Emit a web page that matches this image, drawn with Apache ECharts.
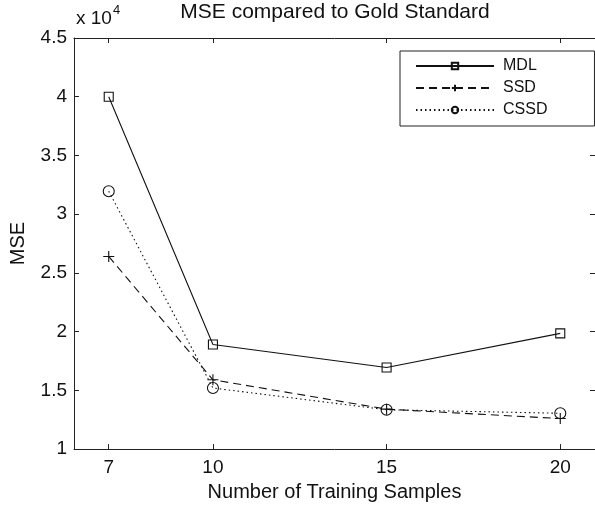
<!DOCTYPE html>
<html>
<head>
<meta charset="utf-8">
<script src="https://cdn.jsdelivr.net/npm/echarts@6/dist/echarts.min.js"></script>
<style>
html,body{margin:0;padding:0;background:#fff;}
#chart{width:595px;height:507px;}
</style>
</head>
<body>
<div id="chart"></div>
<script>
var samples = [7, 10, 15, 20];
var mdl  = [40000, 18900, 16950, 19850];
var ssd  = [26400, 15900, 13400, 12600];
var cssd = [31950, 15200, 13350, 13050];
var xTicks = [7, 10, 15, 20];
var seriesNames = ['MDL', 'SSD', 'CSSD'];

function pairs(ys) { return samples.map(function (x, i) { return [x, ys[i]]; }); }

var FONT = 'Liberation Sans, Arial, Helvetica, sans-serif';
var chart = echarts.init(document.getElementById('chart'), null, {renderer: 'canvas'});
var plusPath = 'path://M0,5L10,5M5,0L5,10';

var axisCommon = {
  axisLine: {show: true, lineStyle: {color: '#222', width: 1}},
  splitLine: {show: false}
};

chart.setOption({
  backgroundColor: '#fff',
  animation: false,
  title: {
    text: 'MSE compared to Gold Standard',
    left: 335, top: 2, textAlign: 'center', padding: 0,
    textStyle: {fontFamily: FONT, fontSize: 21, fontWeight: 'normal', color: '#111'}
  },
  graphic: [{
    type: 'text', left: 76, top: 4,
    style: {
      text: '{a|x 10}{b|4}',
      rich: {
        a: {fontFamily: FONT, fontSize: 19, fill: '#111', verticalAlign: 'bottom'},
        b: {fontFamily: FONT, fontSize: 13, fill: '#111', verticalAlign: 'top', padding: [0,0,11,1]}
      }
    }
  }],
  legend: {
    orient: 'vertical', left: 400, top: 51,
    padding: [5, 47, 6, 15],
    itemWidth: 78, itemHeight: 8, itemGap: 2,
    borderColor: '#222', borderWidth: 1,
    backgroundColor: '#fff',
    textStyle: {fontFamily: FONT, fontSize: 16, lineHeight: 20, color: '#111', padding: [0,0,0,4]},
    data: seriesNames
  },
  grid: {left: 73, right: -3, top: 38, bottom: 56, containLabel: false},
  xAxis: [
    Object.assign({
      type: 'value', min: 6, max: 21, position: 'bottom',
      name: 'Number of Training Samples', nameLocation: 'middle', nameGap: 32,
      nameTextStyle: {fontFamily: FONT, fontSize: 20, color: '#111'},
      axisTick: {show: true, inside: true, length: 5, customValues: xTicks, lineStyle: {color: '#222'}},
      axisLabel: {show: true, customValues: xTicks, margin: 9, fontFamily: FONT, fontSize: 19, color: '#111'}
    }, axisCommon),
    Object.assign({
      type: 'value', min: 6, max: 21, position: 'top',
      axisTick: {show: true, inside: true, length: 5, customValues: xTicks, lineStyle: {color: '#222'}},
      axisLabel: {show: false}
    }, axisCommon)
  ],
  yAxis: [
    Object.assign({
      type: 'value', min: 10000, max: 45000, interval: 5000, position: 'left',
      name: 'MSE', nameLocation: 'middle', nameGap: 46,
      nameTextStyle: {fontFamily: FONT, fontSize: 20, color: '#111'},
      axisTick: {show: true, inside: true, length: 5, lineStyle: {color: '#222'}},
      axisLabel: {show: true, margin: 7, fontFamily: FONT, fontSize: 19, color: '#111',
        formatter: function (v) { return String(v / 10000); }}
    }, axisCommon),
    Object.assign({
      type: 'value', min: 10000, max: 45000, interval: 5000, position: 'right',
      axisTick: {show: true, inside: true, length: 5, lineStyle: {color: '#222'}},
      axisLabel: {show: false}
    }, axisCommon)
  ],
  series: [
    {
      name: 'MDL', type: 'line', data: pairs(mdl),
      symbol: 'rect', symbolSize: 9, showAllSymbol: true,
      lineStyle: {color: '#111', width: 1.1, type: 'solid'},
      itemStyle: {color: 'transparent', borderColor: '#111', borderWidth: 1.1}
    },
    {
      name: 'SSD', type: 'line', data: pairs(ssd),
      symbol: plusPath, symbolSize: 11,
      lineStyle: {color: '#111', width: 1.1, type: [8, 5]},
      itemStyle: {color: 'transparent', borderColor: '#111', borderWidth: 1.1}
    },
    {
      name: 'CSSD', type: 'line', data: pairs(cssd),
      symbol: 'circle', symbolSize: 11,
      lineStyle: {color: '#111', width: 1.1, type: [1.5, 3]},
      itemStyle: {color: 'transparent', borderColor: '#111', borderWidth: 1.1}
    }
  ]
});
</script>
</body>
</html>
